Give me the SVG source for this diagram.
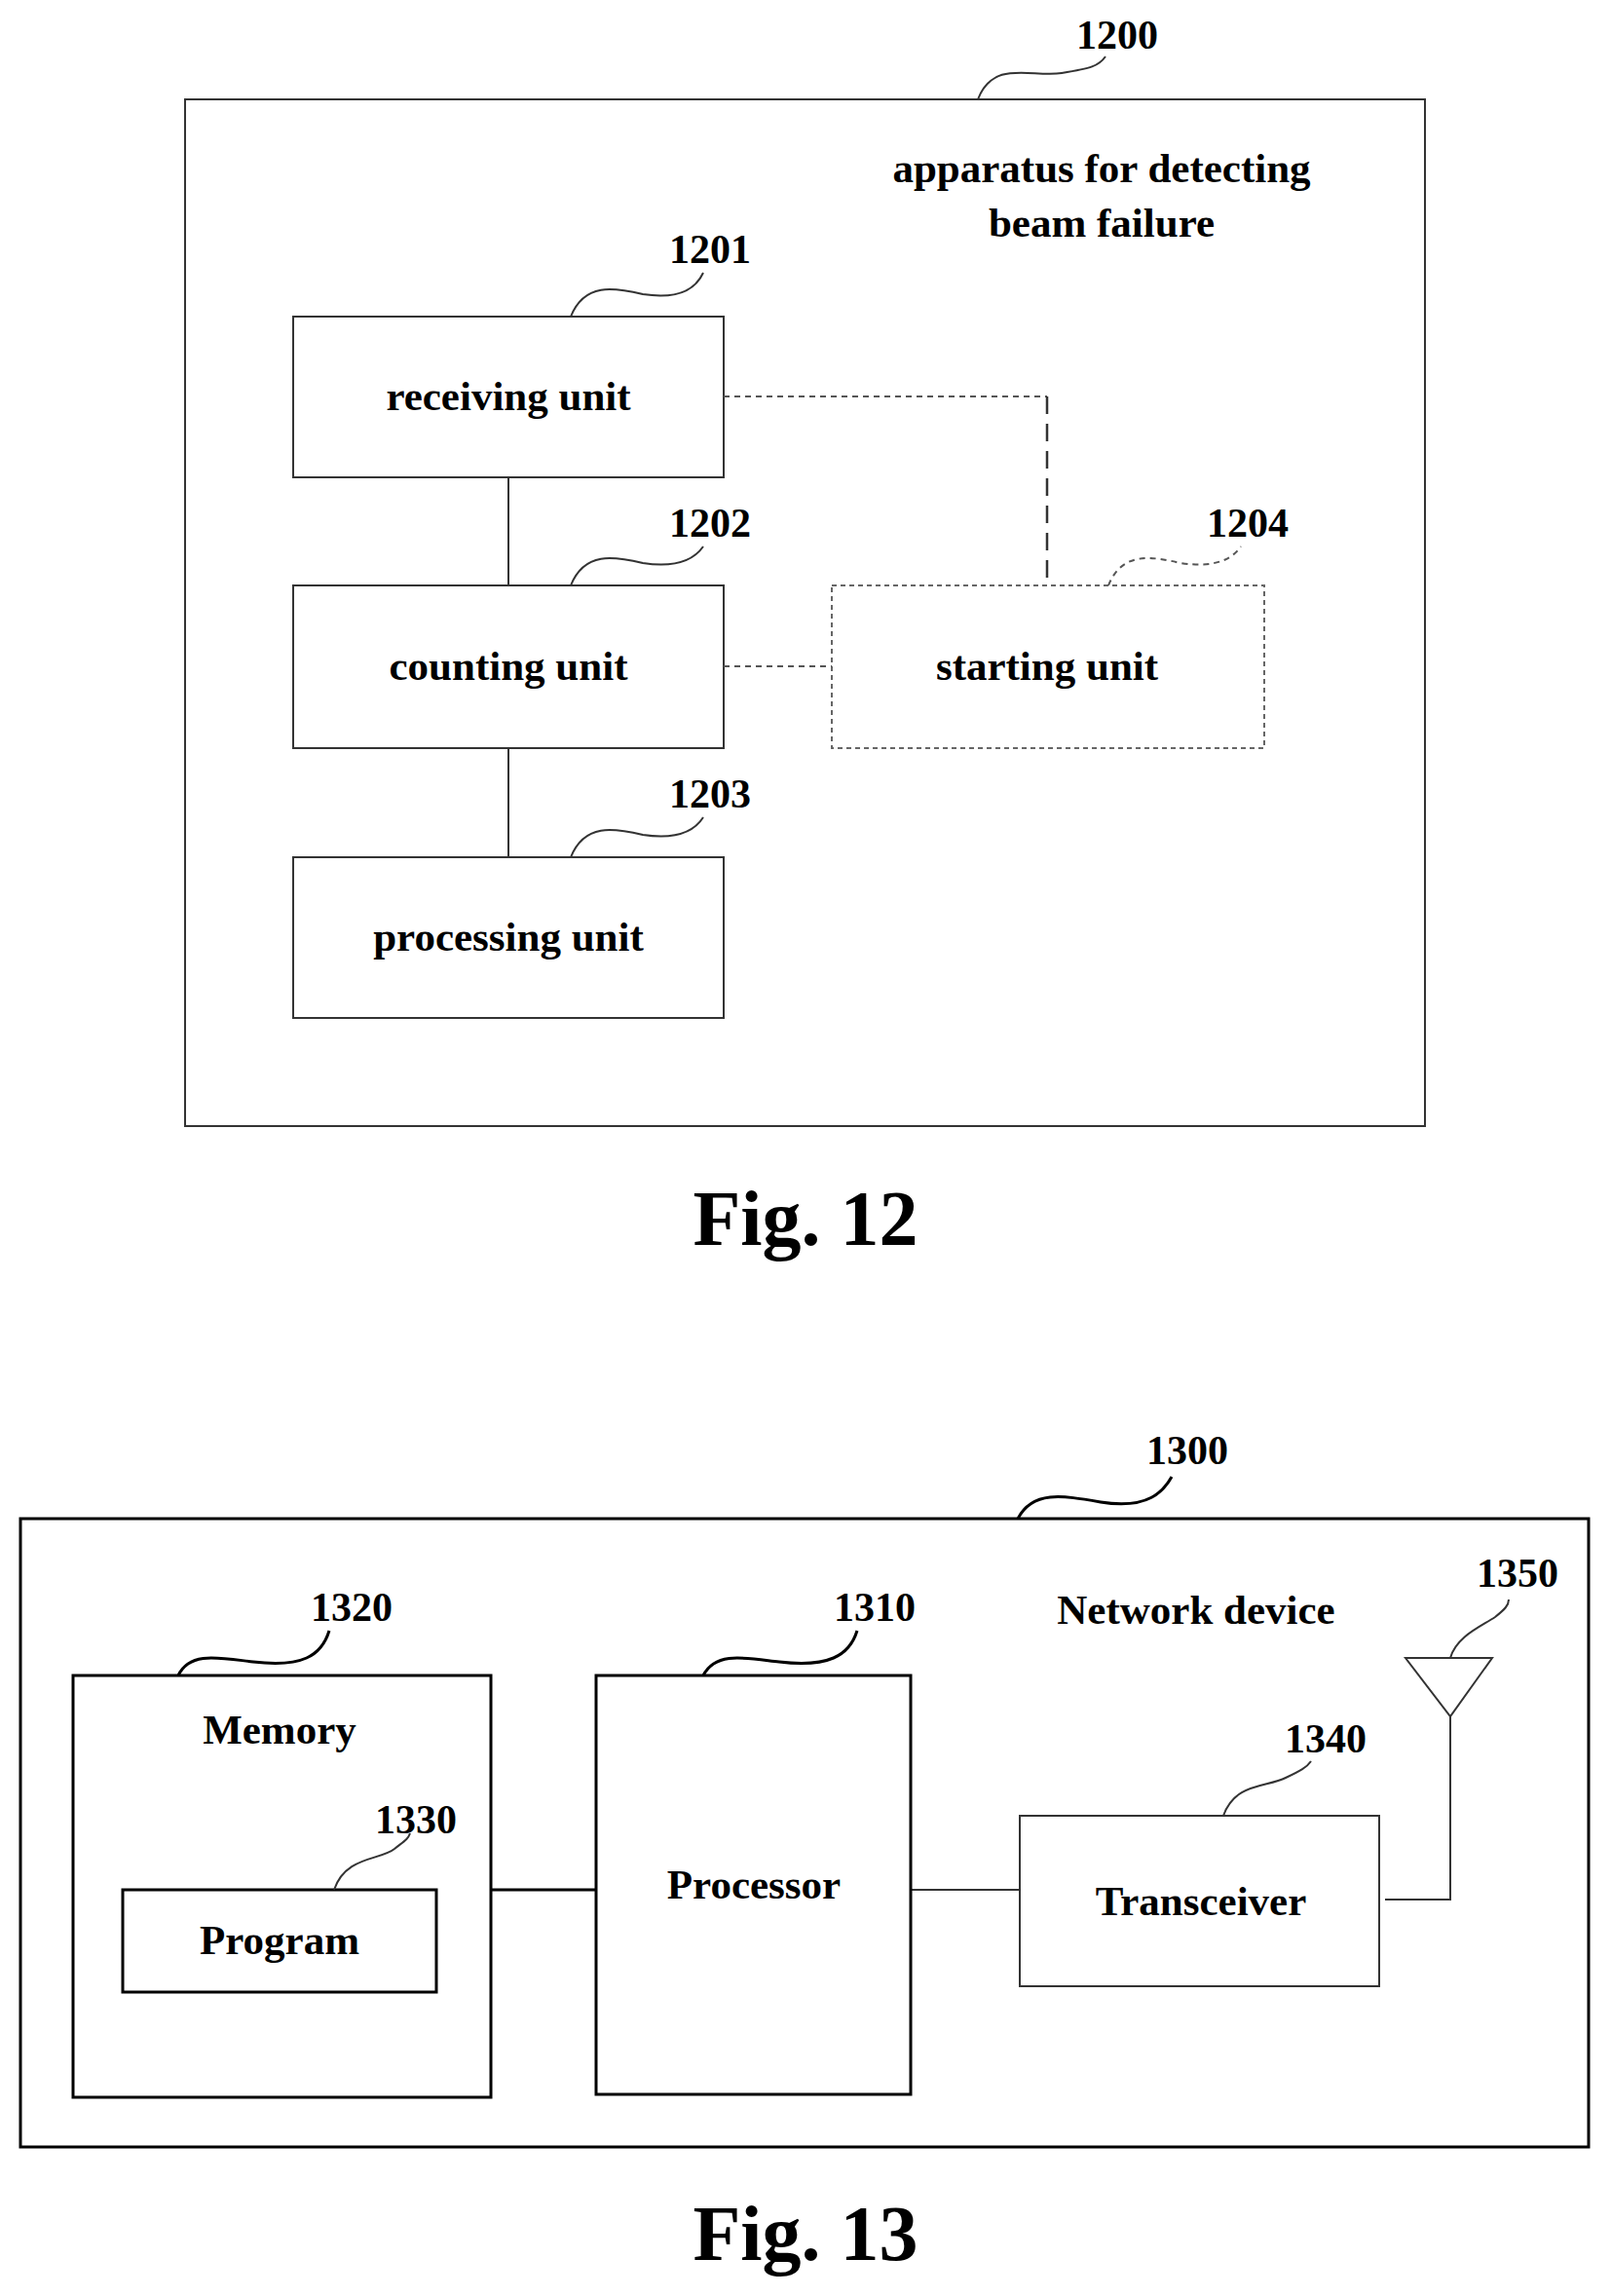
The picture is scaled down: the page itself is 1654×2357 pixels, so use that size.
<svg xmlns="http://www.w3.org/2000/svg" width="1654" height="2357" viewBox="0 0 1654 2357">
<style>
text{font-family:"Liberation Serif","Times New Roman",serif;font-weight:bold;fill:#000}
.t{font-size:43px;text-anchor:middle}
.n{font-size:42px;text-anchor:middle}
.f{font-size:80px;text-anchor:middle}
.b{fill:#fff;stroke:#333;stroke-width:2}
.bk{fill:#fff;stroke:#000;stroke-width:3}
.l{fill:none;stroke:#333;stroke-width:2}
.d{fill:none;stroke:#555;stroke-width:2;stroke-dasharray:6,5}
</style>
<rect width="1654" height="2357" fill="#fff"/>
<g id="fig12">
<rect class="b" x="190" y="102" width="1273" height="1054"/>
<text class="n" x="1147" y="50">1200</text>
<path class="l" d="M1004,102 C1020,60 1060,80 1090,75 C1120,70 1128,68 1135,58"/>
<text class="t" x="1131" y="187">apparatus for detecting</text>
<text class="t" x="1131" y="243">beam failure</text>
</g>
<g id="n1201">
<rect class="b" x="301" y="325" width="442" height="165"/>
<text class="t" x="522" y="421">receiving unit</text>
<text class="n" x="729" y="270">1201</text>
<path class="l" d="M586,325 C600,290 630,295 660,302 C700,308 715,295 722,280"/>
</g>
<g id="n1202">
<rect class="b" x="301" y="601" width="442" height="167"/>
<text class="t" x="522" y="698">counting unit</text>
<text class="n" x="729" y="551">1202</text>
<path class="l" d="M586,601 C600,566 630,571 660,578 C700,584 715,571 722,561"/>
</g>
<g id="n1203">
<rect class="b" x="301" y="880" width="442" height="165"/>
<text class="t" x="522" y="976">processing unit</text>
<text class="n" x="729" y="829">1203</text>
<path class="l" d="M586,880 C600,845 630,850 660,857 C700,863 715,850 722,839"/>
</g>
<g id="n1204">
<rect class="b" x="854" y="601" width="444" height="167" style="stroke-dasharray:5,4;stroke:#666"/>
<text class="t" x="1075" y="698">starting unit</text>
<text class="n" x="1281" y="551">1204</text>
<path class="d" d="M1138,601 C1152,566 1182,571 1212,578 C1252,584 1267,571 1274,561"/>
</g>
<text class="f" x="827" y="1278">Fig. 12</text>
<g id="fig13">
<rect class="bk" x="21" y="1559" width="1610" height="645"/>
<text class="n" x="1219" y="1503">1300</text>
<path class="l" d="M1045,1559 C1060,1530 1090,1535 1130,1542 C1180,1550 1195,1530 1203,1516" style="stroke:#000;stroke-width:3"/>
<text class="t" x="1228" y="1667">Network device</text>
</g>
<g id="connectors">
<path class="l" d="M522,490 V601 M522,768 V880" stroke="#000"/>
<path class="d" d="M743,407 H1075"/>
<path d="M1075,407 V601" fill="none" stroke="#333" stroke-width="2.5" stroke-dasharray="18,10"/>
<path class="d" d="M743,684 H854"/>
<path class="l" d="M504,1940 H612" style="stroke:#000;stroke-width:3"/>
<path class="l" d="M935,1940 H1047"/>
<path class="l" d="M1489,1762 V1950 H1422"/>
</g>
<g id="n1320">
<rect class="bk" x="75" y="1720" width="429" height="433"/>
<text class="t" x="287" y="1790">Memory</text>
<text class="n" x="361" y="1664">1320</text>
<path class="l" d="M183,1720 C195,1695 225,1702 260,1706 C310,1712 330,1700 338,1674" style="stroke:#000;stroke-width:3"/>
</g>
<g id="n1330">
<rect class="bk" x="126" y="1940" width="322" height="105"/>
<text class="t" x="287" y="2006">Program</text>
<text class="n" x="427" y="1882">1330</text>
<path class="l" d="M343,1940 C355,1905 390,1910 405,1898 C415,1890 419,1888 421,1882"/>
</g>
<g id="n1310">
<rect class="bk" x="612" y="1720" width="323" height="430"/>
<text class="t" x="774" y="1949">Processor</text>
<text class="n" x="898" y="1664">1310</text>
<path class="l" d="M722,1720 C735,1695 765,1702 800,1706 C850,1712 872,1700 880,1674" style="stroke:#000;stroke-width:3"/>
</g>
<g id="n1340">
<rect class="b" x="1047" y="1864" width="369" height="175"/>
<text class="t" x="1233" y="1966">Transceiver</text>
<text class="n" x="1361" y="1799">1340</text>
<path class="l" d="M1256,1864 C1268,1830 1300,1835 1320,1825 C1335,1818 1342,1814 1346,1808"/>
</g>
<g id="n1350">
<path class="l" d="M1443,1702 H1532 L1489,1762 Z"/>
<text class="n" x="1558" y="1629">1350</text>
<path class="l" d="M1489,1702 C1495,1680 1520,1670 1535,1660 C1545,1652 1549,1648 1549,1642"/>
</g>
<text class="f" x="827" y="2320">Fig. 13</text>
</svg>
